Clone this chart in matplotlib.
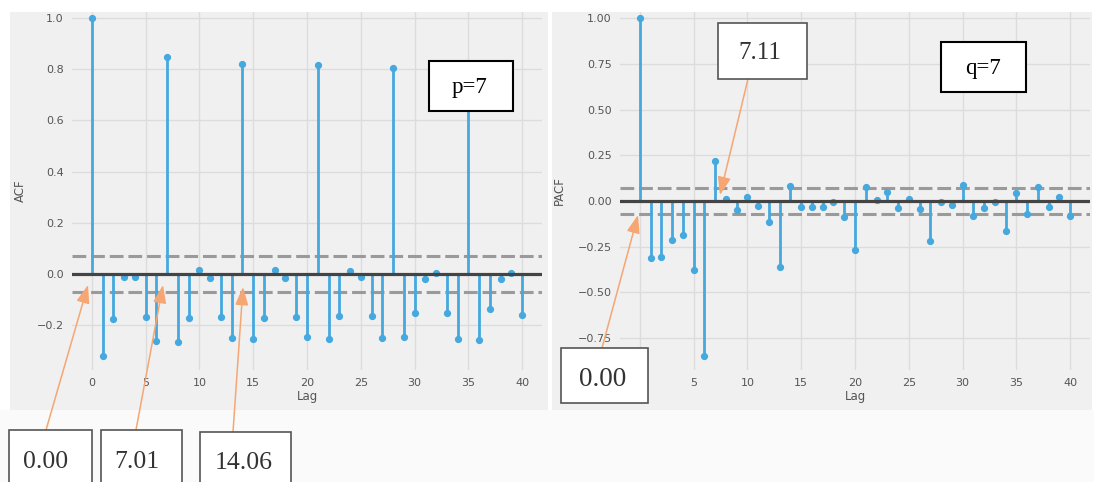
import matplotlib
matplotlib.use("Agg")
import matplotlib.pyplot as plt
from matplotlib.patches import Rectangle, FancyArrowPatch
import numpy as np

# ---------------- data ----------------
lags = list(range(41))
acf_vals = [1.0, -0.319, -0.177, -0.010, -0.010, -0.167, -0.260, 0.849, -0.264, -0.173,
            0.016, -0.016, -0.167, -0.251, 0.820, -0.255, -0.173, 0.016, -0.016, -0.167,
            -0.247, 0.816, -0.254, -0.163, 0.010, -0.010, -0.163, -0.251, 0.803, -0.245,
            -0.154, -0.021, 0.005, -0.154, -0.254, 0.790, -0.257, -0.138, -0.020, 0.005,
            -0.160]
pacf_vals = [1.0, -0.314, -0.305, -0.213, -0.186, -0.378, -0.847, 0.221, 0.009, -0.050,
             0.020, -0.026, -0.113, -0.360, 0.084, -0.031, -0.031, -0.031, -0.007, -0.086,
             -0.268, 0.078, 0.005, 0.047, -0.040, 0.011, -0.044, -0.217, -0.004, -0.022,
             0.088, -0.082, -0.037, -0.007, -0.162, 0.045, -0.073, 0.078, -0.031, 0.020,
             -0.082]
acf_conf = 0.071
pacf_conf = 0.070
acf_yticks = [-0.2, 0.0, 0.2, 0.4, 0.6, 0.8, 1.0]
pacf_yticks = [-0.75, -0.50, -0.25, 0.00, 0.25, 0.50, 0.75, 1.00]
xticks = [0, 5, 10, 15, 20, 25, 30, 35, 40]

left_box_labels = ["0.00", "7.01", "14.06"]
right_box_labels = ["0.00", "7.11"]
order_labels = ["p=7", "q=7"]

# ---------------- figure ----------------
W, H = 1094, 482
fig = plt.figure(figsize=(W / 100, H / 100), dpi=100, facecolor="white")


def fx(x):
    return x / W


def fy(y):
    return 1 - y / H


BG = "#f0f0f0"
# panel backgrounds (drawn beneath the axes)
fig.patches.append(Rectangle((fx(10), fy(410)), fx(538), 398 / H, transform=fig.transFigure,
                             facecolor=BG, edgecolor="none", zorder=-5))
fig.patches.append(Rectangle((fx(552), fy(410)), fx(540), 398 / H, transform=fig.transFigure,
                             facecolor=BG, edgecolor="none", zorder=-5))
fig.patches.append(Rectangle((0, 0), 1, fy(410), transform=fig.transFigure,
                             facecolor="#fafafa", edgecolor="none", zorder=-5))

STEM = "#45a8de"
TICKC = "#555555"


def setup_axes(rect, vals, conf, yticks, ylim, fmt, ylabel, ylabel_x):
    ax = fig.add_axes(rect)
    ax.set_facecolor(BG)
    for s in ax.spines.values():
        s.set_visible(False)
    ax.grid(True, color="#dcdcdc", linewidth=1.0)
    ax.set_axisbelow(True)
    ax.vlines(lags, 0, vals, color=STEM, linewidth=2.0, zorder=3)
    ax.plot(lags, vals, "o", color=STEM, markersize=4.2, zorder=4)
    ax.axhline(0, color="#444444", linewidth=2.3, zorder=5)
    for c in (conf, -conf):
        ax.axhline(c, color="#9a9a9a", linewidth=2.2, linestyle=(0, (4.5, 1.6)), zorder=2)
    ax.set_xlim(-1.86, 41.86)
    ax.set_ylim(*ylim)
    ax.set_xticks(xticks)
    ax.set_yticks(yticks)
    ax.set_yticklabels([fmt.format(t).replace("-", "\u2212") for t in yticks])
    ax.tick_params(axis="both", length=0, labelsize=8, labelcolor=TICKC, pad=6)
    ax.set_xlabel("Lag", fontsize=8.5, color=TICKC, labelpad=1)
    ax.set_ylabel(ylabel, fontsize=8.5, color=TICKC)
    ax.yaxis.set_label_coords(ylabel_x, 0.5)
    return ax


# left ACF axes: x 72..542 px, y 12..370 px
ax1 = setup_axes([fx(72), fy(370), 470 / W, 358 / H], acf_vals, acf_conf, acf_yticks,
                 ((274 - 370) / 256, 1.0 + (18 - 12) / 256), "{:.1f}", "ACF", -0.095)
# right PACF axes: x 620..1090 px
ax2 = setup_axes([fx(620), fy(370), 470 / W, 358 / H], pacf_vals, pacf_conf, pacf_yticks,
                 ((201 - 370) / 182.7, (201 - 12) / 182.7), "{:.2f}", "PACF", -0.115)

# ---------------- annotation boxes ----------------
SERIF = "Liberation Serif"


def box(x0, y0, x1, y1, ec, lw):
    fig.patches.append(Rectangle((fx(x0), fy(y1)), (x1 - x0) / W, (y1 - y0) / H,
                                 transform=fig.transFigure, facecolor="white",
                                 edgecolor=ec, linewidth=lw, zorder=10))


def label(x, y, s, size, color):
    fig.text(fx(x), fy(y), s, ha="center", va="center", family=SERIF,
             fontsize=size, color=color, zorder=11)


def arrow(x0, y0, x1, y1):
    fig.patches.append(FancyArrowPatch((fx(x0), fy(y0)), (fx(x1), fy(y1)),
                                       transform=fig.transFigure,
                                       arrowstyle="-|>,head_length=11,head_width=4",
                                       mutation_scale=1, color="#f5a673",
                                       linewidth=1.1, zorder=9,
                                       shrinkA=0, shrinkB=0))


# left bottom boxes
box(9, 430, 92, 495, "#555555", 1.2)
box(101, 430, 182, 495, "#555555", 1.2)
box(200, 432, 291, 495, "#555555", 1.2)
label(46, 462, left_box_labels[0], 18.5, "#333333")
label(137, 462, left_box_labels[1], 18.5, "#333333")
label(244, 463, left_box_labels[2], 18.5, "#333333")
arrow(46, 430, 88, 285)
arrow(136, 430, 163, 285)
arrow(233, 432, 243, 287)

# right boxes
box(561, 348, 648, 403, "#555555", 1.2)
label(603, 380, right_box_labels[0], 19.5, "#333333")
arrow(602, 348, 638, 215)
box(718, 23, 807, 79, "#555555", 1.2)
label(760, 53, right_box_labels[1], 18, "#333333")
arrow(748, 79, 720, 195)

# p / q boxes
box(429, 61, 513, 111, "black", 1.5)
label(469, 88, order_labels[0], 16.5, "black")
box(941, 42, 1026, 92, "black", 1.5)
label(983, 69, order_labels[1], 16.5, "black")

fig.savefig("out.png", dpi=100, facecolor=fig.get_facecolor())
